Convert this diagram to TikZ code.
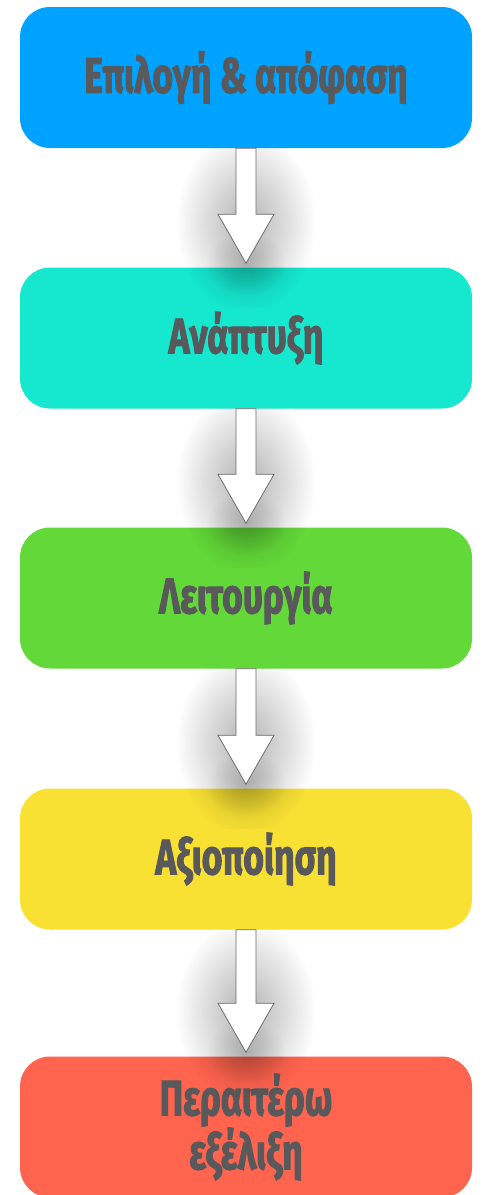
\documentclass[tikz,border=0pt]{standalone}
\usepackage{fontspec}
\setmainfont{Fira Sans}[FakeStretch=0.71, BoldFeatures={FakeBold=1.8}]
\usetikzlibrary{calc,fadings}
\definecolor{cblue}{HTML}{00A2FF}
\definecolor{ccyan}{HTML}{16E8D0}
\definecolor{cgreen}{HTML}{62D938}
\definecolor{cyellow}{HTML}{F8E133}
\definecolor{cred}{HTML}{FF644E}
\definecolor{ctext}{HTML}{59585B}
\definecolor{cline}{HTML}{6A6A6A}
\tikzfading[name=glowfade, inner color=transparent!70, outer color=transparent!100]
\tikzfading[name=tipfade, inner color=transparent!82, outer color=transparent!100]
\tikzset{
  stage/.style={rounded corners=30pt, minimum width=452pt, minimum height=141pt,
    inner sep=0pt, align=center, text=ctext, font=\fontsize{50}{47}\selectfont\bfseries},
  blockarrow/.style={fill=white, draw=cline, line width=0.8pt, line join=miter},
  glow/.style={fill=black, path fading=glowfade},
  tipglow/.style={fill=black, path fading=tipfade}
}
\newcommand{\arrowpath}[2]{($(#1.south)+(-10,0)$) -- ($(#2.north)+(-10,-53)$)
    -- ($(#2.north)+(-28,-53)$) -- ($(#2.north)+(0,-4)$) -- ($(#2.north)+(28,-53)$)
    -- ($(#2.north)+(10,-53)$) -- ($(#1.south)+(10,0)$) -- cycle}
\newcommand{\blkarrow}[2]{%
  \begin{scope}
    \clip ($(#1.south)+(-120,0)$) rectangle ($(#2.north)+(120,40)$);
    \path[glow] ($(#2.north)+(0,-45)$) ellipse (70 and 92);
    \path[tipglow] ($(#2.north)+(0,-4)$) ellipse (40 and 32);
  \end{scope}
  \path[blockarrow] \arrowpath{#1}{#2};}
\begin{document}
\begin{tikzpicture}[x=1pt,y=-1pt]
\useasboundingbox (0,0) rectangle (484,1195);
\node[stage, fill=cblue]   (b1) at (246,77.5)  {Επιλογή \& απόφαση};
\node[stage, fill=ccyan]   (b2) at (246,338)   {Ανάπτυξη};
\node[stage, fill=cgreen]  (b3) at (246,598)   {Λειτουργία};
\node[stage, fill=cyellow] (b4) at (246,859)   {Αξιοποίηση};
\node[stage, fill=cred]    (b5) at (246,1127)  {Περαιτέρω\\εξέλιξη};
\blkarrow{b1}{b2}
\blkarrow{b2}{b3}
\blkarrow{b3}{b4}
\blkarrow{b4}{b5}
\end{tikzpicture}
\end{document}
